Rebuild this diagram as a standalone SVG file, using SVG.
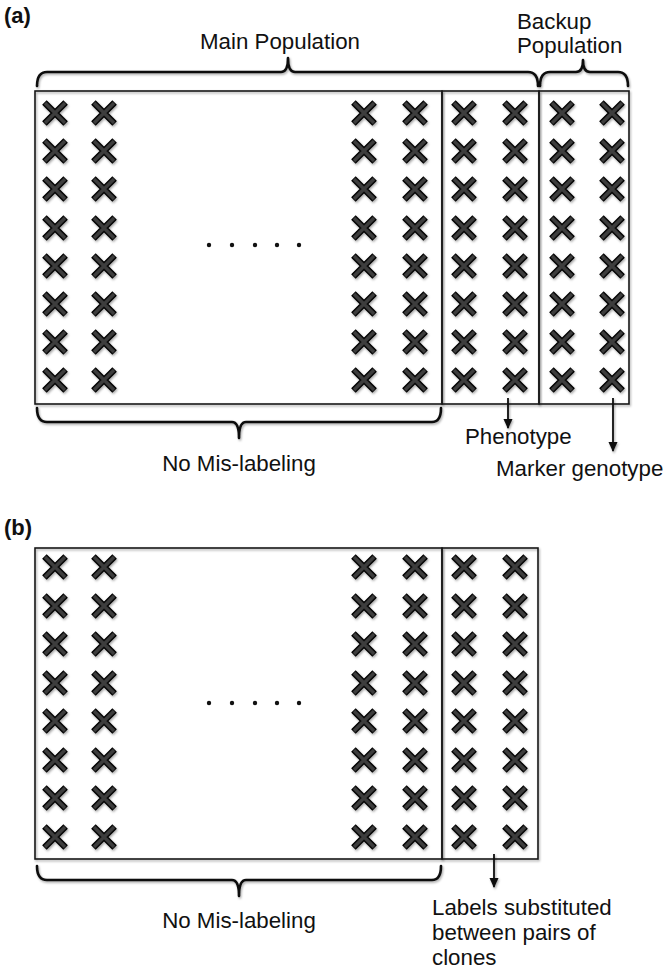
<svg xmlns="http://www.w3.org/2000/svg" xmlns:xlink="http://www.w3.org/1999/xlink" width="667" height="971" viewBox="0 0 667 971">
<defs>
<style>
text{font-family:"Liberation Sans",Arial,sans-serif;fill:#111;}
.lbl{font-size:22.3px;}
.pl{font-size:22px;font-weight:bold;}
.box{fill:none;stroke:#1a1a1a;stroke-width:1.6;}
.br{fill:none;stroke:#111;stroke-width:2.6;stroke-linejoin:round;stroke-linecap:round;}
.ar{fill:none;stroke:#111;stroke-width:1.8;}
</style>
<filter id="sh" x="-20%" y="-20%" width="140%" height="140%">
<feDropShadow dx="1" dy="1.5" stdDeviation="1.2" flood-color="#000" flood-opacity="0.35"/>
</filter>
<g id="x">
<path d="M-10.6,-10.6 L10.6,10.6 M10.6,-10.6 L-10.6,10.6" stroke="#050505" stroke-width="6.4" fill="none"/>
<path d="M-10,-10 L10,10 M10,-10 L-10,10" stroke="#3c3c3c" stroke-width="3.3" fill="none"/>
</g>
<g id="col">
<use xlink:href="#x" y="113"/><use xlink:href="#x" y="151"/><use xlink:href="#x" y="189"/><use xlink:href="#x" y="228"/>
<use xlink:href="#x" y="266"/><use xlink:href="#x" y="304"/><use xlink:href="#x" y="342"/><use xlink:href="#x" y="380"/>
</g>
<g id="colb">
<use xlink:href="#x" y="567"/><use xlink:href="#x" y="606"/><use xlink:href="#x" y="644"/><use xlink:href="#x" y="683"/>
<use xlink:href="#x" y="721"/><use xlink:href="#x" y="760"/><use xlink:href="#x" y="798"/><use xlink:href="#x" y="837"/>
</g>
<marker id="ah" viewBox="0 0 10 10" refX="9" refY="5" markerWidth="10" markerHeight="10" markerUnits="userSpaceOnUse" orient="auto">
<path d="M0,0.5 L10,5 L0,9.5 Z" fill="#111"/>
</marker>
</defs>
<rect width="667" height="971" fill="#fff"/>

<g id="panel-a">
<text class="pl" x="4" y="23">(a)</text>
<g id="main-population-a" filter="url(#sh)">
<rect class="box" x="35" y="91" width="407" height="313"/>
<g id="clones-main-a">
<use xlink:href="#col" x="55"/><use xlink:href="#col" x="104"/><use xlink:href="#col" x="364"/><use xlink:href="#col" x="415"/>
</g>
</g>
<g id="mislabel-a" filter="url(#sh)">
<rect class="box" x="442" y="91" width="97" height="313"/>
<use xlink:href="#col" x="464"/><use xlink:href="#col" x="515"/>
</g>
<g id="backup-a" filter="url(#sh)">
<rect class="box" x="539" y="91" width="90" height="313"/>
<use xlink:href="#col" x="562"/><use xlink:href="#col" x="612"/>
</g>
<g id="dots-a" fill="#111">
<circle cx="209" cy="245" r="2.2"/><circle cx="232" cy="245" r="2.2"/><circle cx="255" cy="245" r="2.2"/><circle cx="277" cy="245" r="2.2"/><circle cx="299" cy="245" r="2.2"/>
</g>
<g id="label-main"><text class="lbl" x="280" y="49" text-anchor="middle">Main Population</text></g>
<g id="label-backup"><text class="lbl" x="517" y="29">Backup</text><text class="lbl" x="517" y="53">Population</text></g>
<g id="label-nomis-a"><text class="lbl" x="239" y="471" text-anchor="middle">No Mis-labeling</text></g>
<g id="label-phenotype"><text class="lbl" x="465" y="444">Phenotype</text></g>
<g id="label-marker"><text class="lbl" x="496" y="476">Marker genotype</text></g>
</g>

<g id="panel-b">
<text class="pl" x="4" y="535">(b)</text>
<g id="main-population-b" filter="url(#sh)">
<rect class="box" x="35" y="548" width="407" height="311"/>
<use xlink:href="#colb" x="55"/><use xlink:href="#colb" x="104"/><use xlink:href="#colb" x="364"/><use xlink:href="#colb" x="415"/>
</g>
<g id="mislabel-b" filter="url(#sh)">
<rect class="box" x="442" y="548" width="96" height="311"/>
<use xlink:href="#colb" x="464"/><use xlink:href="#colb" x="515"/>
</g>
<g id="dots-b" fill="#111">
<circle cx="209" cy="703" r="2.2"/><circle cx="232" cy="703" r="2.2"/><circle cx="255" cy="703" r="2.2"/><circle cx="277" cy="703" r="2.2"/><circle cx="299" cy="703" r="2.2"/>
</g>
<g id="label-nomis-b"><text class="lbl" x="239" y="928" text-anchor="middle">No Mis-labeling</text></g>
<g id="label-subst"><text class="lbl" x="432" y="915">Labels substituted</text><text class="lbl" x="432" y="940">between pairs of</text><text class="lbl" x="432" y="965">clones</text></g>
</g>

<g id="connectors" filter="url(#sh)">
<path class="br" d="M37,86 Q37,72 47,72 L281,72 Q288,72 288,58 Q288,72 295,72 L528,72 Q538,72 538,86"/>
<path class="br" d="M540,86 Q540,72 550,72 L576,72 Q583,72 583,60 Q583,72 590,72 L618,72 Q628,72 628,86"/>
<path class="br" d="M37,408 Q37,422 47,422 L232,422 Q239,422 239,438 Q239,422 246,422 L432,422 Q441,422 441,408"/>
<path class="br" d="M37,866 Q37,880 47,880 L232,880 Q239,880 239,896 Q239,880 246,880 L432,880 Q441,880 441,866"/>
<line class="ar" x1="508" y1="398" x2="508" y2="428" marker-end="url(#ah)"/>
<line class="ar" x1="613" y1="398" x2="613" y2="451" marker-end="url(#ah)"/>
<line class="ar" x1="494" y1="854" x2="494" y2="887" marker-end="url(#ah)"/>
</g>
</svg>
